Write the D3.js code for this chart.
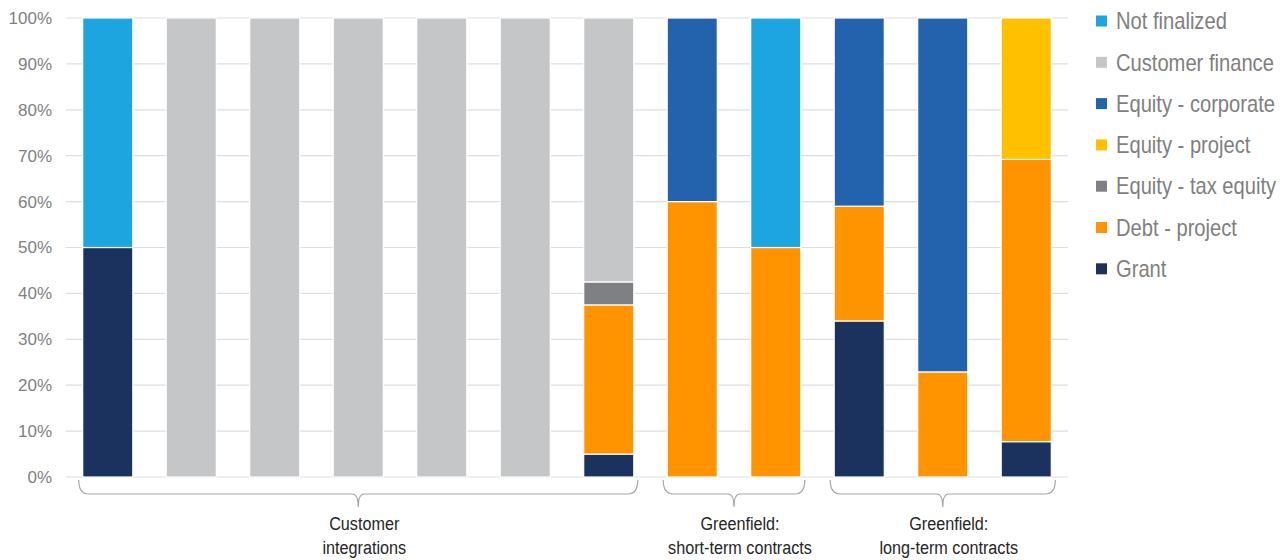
<!DOCTYPE html>
<html>
<head>
<meta charset="utf-8">
<script src="https://cdn.jsdelivr.net/npm/d3@7"></script>
<style>
  body { margin: 0; background: #fff; }
  svg { display: block; }
</style>
</head>
<body>
<svg width="1284" height="560"></svg>
<script>
// series, bottom to top of each stack
var seriesNames = ["Grant", "Debt - project", "Equity - tax equity", "Equity - project", "Equity - corporate", "Customer finance", "Not finalized"];
var seriesColors = ["#1c325e", "#ff9300", "#7f8083", "#ffc000", "#2362ac", "#c5c6c8", "#1ca5df"];

var grant        = [50, 0, 0, 0, 0, 0, 5,    0,  0, 34, 0,    7.7];
var debtProject  = [0,  0, 0, 0, 0, 0, 32.5, 60, 50, 25, 22.9, 61.5];
var taxEquity    = [0,  0, 0, 0, 0, 0, 5,    0,  0, 0,  0,    0];
var eqProject    = [0,  0, 0, 0, 0, 0, 0,    0,  0, 0,  0,    30.8];
var eqCorporate  = [0,  0, 0, 0, 0, 0, 0,    40, 0, 41, 77.1, 0];
var custFinance  = [0, 100, 100, 100, 100, 100, 57.5, 0, 0, 0, 0, 0];
var notFinalized = [50, 0, 0, 0, 0, 0, 0,    0,  50, 0, 0,    0];

var yTicks = [0, 10, 20, 30, 40, 50, 60, 70, 80, 90, 100];

// groups: first bar, last bar, label lines
var groups = [
  { from: 0, to: 6, label: ["Customer", "integrations"] },
  { from: 7, to: 8, label: ["Greenfield:", "short-term contracts"] },
  { from: 9, to: 11, label: ["Greenfield:", "long-term contracts"] }
];

var allSeries = [grant, debtProject, taxEquity, eqProject, eqCorporate, custFinance, notFinalized];
var svg = d3.select("svg");
var FONT = "Liberation Sans, Arial, sans-serif";

// width of a string, used to squeeze text into a condensed look
function measure(str, size) {
  var t = svg.append("text").attr("font-family", FONT).attr("font-size", size).text(str);
  var w = t.node().getComputedTextLength();
  t.remove();
  return w;
}

var x = d3.scaleBand().domain(d3.range(grant.length)).range([66, 1068]).paddingInner(0.4).paddingOuter(0.2);
var y = d3.scaleLinear().domain([0, 100]).range([477, 18]);

// gridlines
svg.append("g").selectAll("line").data(yTicks).enter().append("line")
  .attr("x1", 66).attr("x2", 1068)
  .attr("y1", function(d) { return y(d); }).attr("y2", function(d) { return y(d); })
  .attr("stroke", "#dedede").attr("stroke-width", 1.2);

// y axis labels
svg.append("g").selectAll("text").data(yTicks).enter().append("text")
  .attr("x", 52).attr("y", function(d) { return y(d); }).attr("dy", "0.35em")
  .attr("text-anchor", "end")
  .attr("font-family", FONT).attr("font-size", 17)
  .attr("fill", "#7f7f7f")
  .text(function(d) { return d + "%"; });

// stacked bars
var rows = d3.range(grant.length).map(function(i) {
  var r = { i: i };
  seriesNames.forEach(function(n, k) { r[n] = allSeries[k][i]; });
  return r;
});
var stacked = d3.stack().keys(seriesNames)(rows);

svg.append("g").selectAll("g").data(stacked).enter().append("g")
  .attr("fill", function(d, k) { return seriesColors[k]; })
  .selectAll("rect").data(function(d) { return d.filter(function(s) { return s[1] - s[0] > 0; }); })
  .enter().append("rect")
  .attr("x", function(d) { return x(d.data.i); })
  .attr("width", x.bandwidth())
  .attr("y", function(d) { return y(d[1]); })
  .attr("height", function(d) { return y(d[0]) - y(d[1]); })
  .attr("stroke", "#ffffff").attr("stroke-width", 1.2);

// brackets under axis
var by = 480, bd = 494, bt = 507;
var labelSize = 18;
var labelScale = 144 / measure("short-term contracts", labelSize);
groups.forEach(function(g) {
  var x0 = x(g.from) - 4, x1 = x(g.to) + x.bandwidth() + 4;
  var xm = (x0 + x1) / 2;
  var p = d3.path();
  p.moveTo(x0, by);
  p.quadraticCurveTo(x0, bd, x0 + 10, bd);
  p.lineTo(xm - 6, bd);
  p.quadraticCurveTo(xm, bd, xm, bt);
  p.quadraticCurveTo(xm, bd, xm + 6, bd);
  p.lineTo(x1 - 10, bd);
  p.quadraticCurveTo(x1, bd, x1, by);
  svg.append("path").attr("d", p.toString())
    .attr("fill", "none").attr("stroke", "#a6a6a6").attr("stroke-width", 1.2);

  var t = svg.append("g").attr("transform", "translate(" + (xm + 6) + ",0) scale(" + labelScale + ",1)")
    .append("text").attr("text-anchor", "middle")
    .attr("font-family", FONT)
    .attr("font-size", labelSize).attr("fill", "#262626");
  g.label.forEach(function(line, j) {
    t.append("tspan").attr("x", 0).attr("y", 530 + j * 24).text(line);
  });
});

// legend, top entry first
var legendSize = 23;
var legendScale = 158 / measure("Customer finance", legendSize);
var legendOrder = d3.range(seriesNames.length).reverse();
var lg = svg.append("g").selectAll("g").data(legendOrder).enter().append("g")
  .attr("transform", function(k, j) { return "translate(1096," + (21 + j * 41.3) + ")"; });
lg.append("rect").attr("x", 0).attr("y", -5.5).attr("width", 11).attr("height", 11)
  .attr("fill", function(k) { return seriesColors[k]; });
lg.append("g").attr("transform", "translate(20,0) scale(" + legendScale + ",1)")
  .append("text").attr("dy", "0.36em")
  .attr("font-family", FONT)
  .attr("font-size", legendSize).attr("fill", "#7f7f7f")
  .text(function(k) { return seriesNames[k]; });
</script>
</body>
</html>
